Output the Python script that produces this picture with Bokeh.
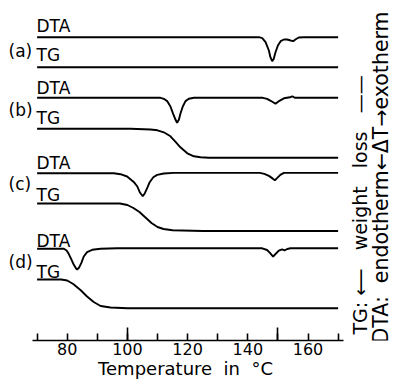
from bokeh.plotting import figure
from bokeh.models import Range1d, FixedTicker, Label
from bokeh.core.properties import value
from bokeh.embed import file_html
from bokeh.resources import INLINE

# ---------------- data ----------------
# DTA / TG traces: temperature (deg C) and signal deflection (chart units, down = negative)
temp_dta_a = [70, 143.7, 144.8, 145.9, 147.0, 147.5, 148.1, 148.6, 149.2, 150.0, 150.9, 152.0,
              153.1, 154.2, 155.1, 155.8, 156.9, 158.6, 170]
dta_a = [0, 0, -1, -5, -13.3, -20, -24, -21.7, -15, -8.3, -4, -2.3, -2.3, -3.3, -4, -2.3, -0.3, 0, 0]

temp_tg_a = [70, 170]
tg_a = [0, 0]

temp_dta_b = [70, 111.0, 112.1, 113.2, 114.3, 115.2, 116.0, 116.5, 117.1, 117.6, 118.4, 119.3,
              120.4, 122.1, 145.0, 146.4, 147.6, 149.2, 150.5, 152.0, 154.0, 154.8, 155.6, 170]
dta_b = [0, 0, -1, -3.3, -8.7, -16, -22, -25, -22, -16, -8.7, -3.3, -1, 0, 0, -1, -3, -6, -3,
         -0.5, 0.5, 1.5, 0, 0]

temp_tg_b = [70, 101.0, 107.7, 110.0, 112.1, 114.3, 116.0, 117.6, 119.9, 122.1, 124.3, 127.0, 170]
tg_b = [0, 0, -0.7, -1.5, -3.5, -7.5, -13, -18.5, -24.5, -27.5, -28.5, -29, -29]

temp_dta_c = [70, 95.5, 97.7, 99.9, 102.1, 103.3, 104.1, 105.1, 105.8, 106.6, 107.4, 108.6,
              109.9, 112.1, 115.4, 144.0, 145.5, 147.0, 148.2, 149.0, 149.8, 150.8, 152.0, 170]
dta_c = [0, 0, -1, -3.3, -8.7, -13.3, -19, -23, -20, -14.7, -9, -4, -1.7, -0.3, 0.3, 0.3, -0.7,
         -2.7, -5.2, -7, -4.7, -1.7, 0.3, 0.3]

temp_tg_c = [70, 97.5, 100, 102, 104, 106, 108, 110, 112, 115, 125, 170]
tg_c = [0, 0, -1.5, -4.5, -8.5, -14, -19.5, -23.5, -25.5, -26.8, -27.5, -27.5]

temp_dta_d = [70, 78.9, 79.8, 80.5, 81.3, 82.2, 83.0, 83.3, 83.9, 84.7, 85.5, 86.6, 88.3, 91.1,
              96.6, 144.8, 146.4, 147.5, 148.4, 149.2, 150.3, 151.4, 152.2, 153.1, 154.2, 170]
dta_d = [0, 0, -1.7, -5, -10, -16, -20, -20.7, -19, -14, -7.7, -3.3, -1, 0, 0.5, 0.5, -1.2,
         -4.5, -7.8, -5.2, -1.8, -0.5, -1.5, -0.2, 0.5, 0.5]

temp_tg_d = [70, 78, 80, 82, 84.4, 86.6, 88.8, 91.1, 94.4, 100, 170]
tg_d = [0, 0, -1, -4.5, -10.5, -17, -22.5, -26.5, -28, -28.7, -28.7]

x_ticks = [70, 80, 90, 100, 110, 120, 130, 140, 150, 160, 170]
x_tick_labels = ["", "80", "", "100", "", "120", "", "140", "", "160", ""]
x_long_ticks = [100, 150]
x_label = "Temperature\u00a0\u00a0in\u00a0\u00a0°C" + "\u00a0" * 4
sample_labels = ["(a)", "(b)", "(c)", "(d)"]
right_label_tg = ("TG:\u00a0⟵\u00a0\u00a0\u00a0weight\u00a0\u00a0\u00a0loss"
                  "\u00a0\u00a0\u00a0——")
right_label_dta = "DTA:\u00a0\u00a0endotherm←ΔT→exotherm"

# ---------------- layout (reference pixel rows of each baseline) ----------------
TOP = 340.0  # chart y = TOP - pixel row
rows = {
    "dta_a": 36.7, "tg_a": 66.7,
    "dta_b": 97.3, "tg_b": 128.3,
    "dta_c": 172.7, "tg_c": 203.0,
    "dta_d": 248.3, "tg_d": 279.0,
}
traces = [
    ("dta_a", temp_dta_a, dta_a), ("tg_a", temp_tg_a, tg_a),
    ("dta_b", temp_dta_b, dta_b), ("tg_b", temp_tg_b, tg_b),
    ("dta_c", temp_dta_c, dta_c), ("tg_c", temp_tg_c, tg_c),
    ("dta_d", temp_dta_d, dta_d), ("tg_d", temp_tg_d, tg_d),
]

FONT = "DejaVu Sans"
p = figure(frame_width=393, frame_height=340, output_backend="svg", toolbar_location=None,
           x_range=Range1d(57.84, 188.40), y_range=Range1d(0, 340),
           y_axis_location=None, min_border_left=0, min_border_right=0,
           min_border_top=0, min_border_bottom=0)
p.grid.visible = False
p.outline_line_color = None
p.background_fill_color = "white"
p.border_fill_color = "white"

for key, t, d in traces:
    base = TOP - rows[key]
    p.line(t, [base + v for v in d], line_color="black", line_width=1.9)

# curve labels
dta_text_rows = [25, 87.5, 162.5, 240]
tg_text_rows = [54, 117, 194, 271]
sample_rows = [50, 109, 183, 261]
p.text(x=[69.8] * 4, y=[TOP - r for r in dta_text_rows], text=["DTA"] * 4,
       text_font=value(FONT), text_font_size="17px", text_align="left",
       text_baseline="middle", text_color="black")
p.text(x=[69.8] * 4, y=[TOP - r for r in tg_text_rows], text=["TG"] * 4,
       text_font=value(FONT), text_font_size="17px", text_align="left",
       text_baseline="middle", text_color="black")
p.text(x=[60.5] * 4, y=[TOP - r for r in sample_rows], text=sample_labels,
       text_font=value(FONT), text_font_size="17px", text_align="left",
       text_baseline="middle", text_color="black")

# right-hand rotated captions
p.add_layout(Label(x=177.2, y=TOP - 334, text=right_label_tg, angle=90, angle_units="deg",
                   text_font=FONT, text_font_size="19px", text_align="left",
                   text_baseline="middle", text_color="black"))
p.add_layout(Label(x=184.2, y=TOP - 343, text=right_label_dta, angle=90, angle_units="deg",
                   text_font=FONT, text_font_size="20.5px", text_align="left",
                   text_baseline="middle", text_color="black"))

ax = p.xaxis[0]
ax.ticker = FixedTicker(ticks=x_ticks, minor_ticks=x_long_ticks)
ax.major_label_overrides = {t: lab for t, lab in zip(x_ticks, x_tick_labels)}
ax.bounds = (68.47, 171.8)
ax.axis_line_width = 1.6
ax.axis_line_color = "black"
ax.major_tick_in = 7
ax.major_tick_out = 0
ax.minor_tick_in = 13
ax.minor_tick_out = 0
ax.major_tick_line_width = 1.6
ax.minor_tick_line_width = 1.6
ax.major_tick_line_color = "black"
ax.minor_tick_line_color = "black"
ax.major_label_text_font = FONT
ax.major_label_text_font_size = "16px"
ax.major_label_text_color = "black"
ax.major_label_standoff = 2
ax.axis_label = x_label
ax.axis_label_text_font = FONT
ax.axis_label_text_font_size = "18px"
ax.axis_label_text_font_style = "normal"
ax.axis_label_text_color = "black"
ax.axis_label_standoff = 0

open("out.html", "w").write(file_html(p, INLINE))
